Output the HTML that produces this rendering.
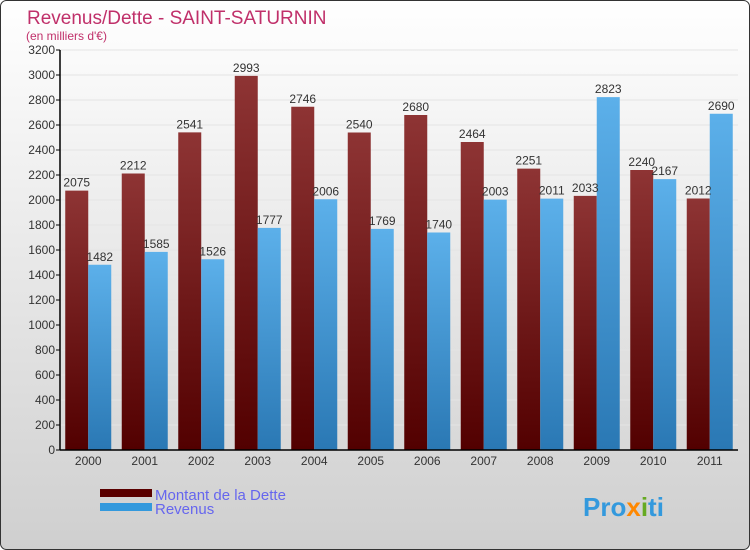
<!DOCTYPE html>
<html><head><meta charset="utf-8"><style>
body{margin:0}
svg{display:block;font-family:"Liberation Sans",sans-serif}
</style></head><body>
<svg id="chart" width="750" height="550" viewBox="0 0 750 550">
<defs>
<linearGradient id="bg" x1="0" y1="0" x2="0" y2="1"><stop offset="0" stop-color="#ffffff"/><stop offset="1" stop-color="#cfcfcf"/></linearGradient>
<linearGradient id="gd" x1="0" y1="0" x2="0" y2="1"><stop offset="0" stop-color="#8e3434"/><stop offset="1" stop-color="#520000"/></linearGradient>
<linearGradient id="gr" x1="0" y1="0" x2="0" y2="1"><stop offset="0" stop-color="#5cb0ea"/><stop offset="1" stop-color="#2a78b4"/></linearGradient>
</defs>
<rect x="0.5" y="0.5" width="749" height="549" rx="6" fill="url(#bg)" stroke="#333"/>
<text x="27" y="24" font-size="19" fill="#c0306a">Revenus/Dette - SAINT-SATURNIN</text>
<text x="26" y="40" font-size="12" fill="#c0306a">(en milliers d'€)</text>
<g id="grid"></g><g id="bars"></g><g id="axes"></g>
<rect x="100" y="489" width="52" height="8" fill="#5a0000"/>
<rect x="100" y="503" width="52" height="8" fill="#3399dd"/>
<text x="155" y="500" font-size="15" fill="#6666ee">Montant de la Dette</text>
<text x="155" y="514" font-size="15" fill="#6666ee">Revenus</text>
<text x="583" y="516" font-size="26" font-weight="bold" fill="#3399dd">Pro<tspan fill="#ff8800">x</tspan><tspan fill="#66aa22">i</tspan>ti</text>
</svg>
<script>
const years=["2000","2001","2002","2003","2004","2005","2006","2007","2008","2009","2010","2011"];
const dette=[2075,2212,2541,2993,2746,2540,2680,2464,2251,2033,2240,2012];
const revenus=[1482,1585,1526,1777,2006,1769,1740,2003,2011,2823,2167,2690];
const yTicks=[0,200,400,600,800,1000,1200,1400,1600,1800,2000,2200,2400,2600,2800,3000,3200];
const NS="http://www.w3.org/2000/svg";
const x0=60,x1=738,yTop=50,yBot=450,yMax=3200;
const step=(x1-x0)/years.length;
const y=v=>yBot-(v/yMax)*(yBot-yTop);
const cx=i=>x0+step*(i+0.5);
function mk(tag,attrs,parent,text){const e=document.createElementNS(NS,tag);for(const k in attrs)e.setAttribute(k,attrs[k]);if(text!=null)e.textContent=text;parent.appendChild(e);return e;}
const grid=document.getElementById('grid'),bars=document.getElementById('bars'),axes=document.getElementById('axes');
yTicks.forEach(t=>{
  const g=mk('line',{x1:x0,x2:x1,y1:y(t),y2:y(t),stroke:'#e4e4e4','stroke-width':1},grid);
  
  
  const tk=mk('line',{x1:x0-4,x2:x0,y1:y(t),y2:y(t),stroke:'#000'},axes);
  
  
  const l=mk('text',{x:x0-5,y:y(t)+4,'font-size':12,'text-anchor':'end',fill:'#333'},axes,String(t));
  
  
});
const bw=23;
years.forEach((yr,i)=>{
  const c=cx(i);
  const b1=mk('rect',{x:c-bw,y:y(dette[i]),width:bw,height:yBot-y(dette[i]),fill:'url(#gd)'},bars);
  
  
  const b2=mk('rect',{x:c,y:y(revenus[i]),width:bw,height:yBot-y(revenus[i]),fill:'url(#gr)'},bars);
  
  
  const v1=mk('text',{x:c-bw/2,y:y(dette[i])-4,'font-size':12,'text-anchor':'middle',fill:'#333'},bars,String(dette[i]));
  
  
  const v2=mk('text',{x:c+bw/2,y:y(revenus[i])-4,'font-size':12,'text-anchor':'middle',fill:'#333'},bars,String(revenus[i]));
  
  
  const xl=mk('text',{x:c,y:yBot+15,'font-size':12,'text-anchor':'middle',fill:'#333'},axes,yr);
  
  
});
const ya=mk('line',{x1:x0,x2:x0,y1:yTop,y2:yBot,stroke:'#000','stroke-width':1.5},axes);


const xa=mk('line',{x1:x0,x2:x1,y1:yBot,y2:yBot,stroke:'#000','stroke-width':1.5},axes);


</script>
</body></html>
